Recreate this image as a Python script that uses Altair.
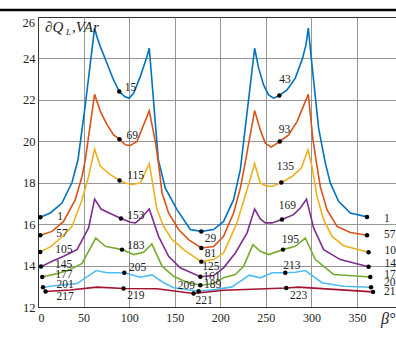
import altair as alt
import pandas as pd

# ---------------- data ----------------
series_names = ["s1", "s2", "s3", "s4", "s5", "s6", "s7"]
series_colors = ["#0072BD", "#D95319", "#EDB120", "#7E2F8E", "#77AC30", "#4DBEEE", "#A2142F"]

blue_x = [2.5, 13.5, 26.3, 37.3, 43.9, 51.9, 62.1, 65.0, 68.4, 75.7, 82.9, 89.2, 94.7, 99.8, 104.9, 112.2,
          119.6, 122.1, 132.0, 139.7, 152.5, 167.1, 179.2, 192.7, 203.6, 214.6, 222.0, 237.7, 242.1,
          247.5, 253.0, 258.5, 264.8, 273.2, 282.3, 290.3, 294.0, 296.6, 300.6, 307.9, 315.2, 320.7, 329.8,
          342.7, 361.0]
blue_y = [16.33, 16.54, 17.02, 18.01, 19.11, 21.76, 25.46, 25.0, 24.57, 23.77, 22.96, 22.40, 22.17, 22.08,
          22.32, 23.12, 24.09, 24.49, 19.11, 17.74, 16.70, 15.74, 15.65, 15.74, 16.13, 17.18, 18.63,
          24.49, 23.53, 22.72, 22.24, 22.08, 22.21, 22.48, 23.05, 24.01, 24.65, 25.46, 23.69, 20.64, 18.96,
          17.99, 17.10, 16.54, 16.35]

orange_x = [2.5, 15.4, 28.1, 40.9, 48.3, 51.9, 62.1, 68.4, 75.7, 82.9, 89.4, 95.8, 101.3, 108.6,
            122.1, 128.7, 132.4, 136.1, 143.3, 154.3, 165.2, 179.2, 192.7, 203.6, 214.6, 222.0,
            227.5, 237.7, 243.9, 249.4, 256.0, 265.3, 275.0, 284.2, 290.3, 296.6, 301.7, 305.4,
            309.7, 317.1, 328.1, 342.7, 361.0]
orange_y = [15.46, 15.65, 16.13, 17.18, 18.30, 19.11, 22.27, 21.44, 20.80, 20.31, 20.10, 19.83, 19.80,
            19.99, 21.47, 19.99, 18.87, 17.50, 16.54, 15.74, 15.25, 14.85, 14.92, 15.41, 16.54, 17.74,
            19.01, 21.48, 20.55, 19.91, 19.72, 19.99, 20.31, 20.95, 21.60, 22.27, 20.07, 19.01,
            17.82, 16.70, 15.89, 15.60, 15.46]

yellow_x = [2.5, 13.5, 26.3, 37.3, 48.3, 55.5, 62.1, 68.4, 79.3, 89.5, 95.8, 103.1, 112.2, 122.1,
            130.6, 137.8, 147.0, 159.8, 179.2, 192.7, 203.6, 218.3, 229.3, 237.7, 243.9, 249.4,
            256.8, 267.0, 278.7, 288.9, 296.2, 300.6, 306.1, 313.4, 322.6, 335.3, 362.7]
yellow_y = [14.66, 14.90, 15.38, 15.89, 17.18, 18.30, 19.62, 18.79, 18.39, 18.11, 17.99, 17.90, 17.99,
            18.92, 16.70, 15.89, 15.26, 14.77, 14.19, 14.29, 14.61, 16.06, 17.66, 18.92, 17.99, 17.86,
            17.82, 18.01, 18.30, 18.71, 19.59, 18.79, 17.34, 16.22, 15.41, 14.96, 14.64]

purple_x = [3.3, 15.4, 28.1, 42.8, 55.5, 62.1, 69.1, 79.3, 91.1, 101.3, 106.8, 112.2, 122.1, 132.3,
            143.3, 156.1, 178.1, 192.7, 203.6, 216.5, 229.3, 237.7, 243.9, 249.4, 256.8, 267.7,
            280.4, 287.8, 294.6, 302.4, 313.4, 331.7, 362.7]
purple_y = [13.95, 14.21, 14.45, 14.77, 15.82, 17.21, 16.73, 16.51, 16.27, 16.09, 16.06, 16.25, 16.73,
            15.41, 14.45, 13.89, 13.46, 13.52, 13.89, 14.61, 15.57, 16.73, 16.25, 16.06, 16.06, 16.22,
            16.46, 16.78, 17.21, 15.82, 14.77, 14.29, 13.94]

green_x = [4.7, 20.8, 35.4, 48.3, 63.4, 73.8, 92.2, 104.9, 115.9, 124.9, 136.1, 148.8, 163.5, 178.1,
           192.7, 203.6, 216.5, 225.6, 235.9, 243.9, 253.0, 268.8, 282.3, 293.3, 304.3, 324.3, 364.6]
green_y = [13.45, 13.61, 13.81, 14.10, 15.33, 14.93, 14.77, 14.53, 14.64, 15.05, 13.97, 13.48, 13.20,
           13.05, 13.13, 13.41, 13.57, 13.97, 15.01, 14.69, 14.53, 14.77, 14.93, 15.33, 14.29, 13.57,
           13.45]

lblue_x = [5.5, 20.8, 42.8, 64.0, 75.7, 94.7, 112.2, 125.1, 137.8, 148.8, 176.2, 194.5, 212.9, 231.8,
           243.9, 257.1, 271.3, 282.3, 293.3, 311.6, 335.3, 365.4]
lblue_y = [12.95, 13.04, 13.13, 13.76, 13.65, 13.65, 13.44, 13.55, 13.17, 12.93, 12.76, 12.84, 12.97,
           13.54, 13.41, 13.65, 13.65, 13.68, 13.76, 13.17, 13.00, 12.95]

dred_x = [8.3, 35.4, 64.7, 93.9, 130.6, 170.7, 203.6, 234.8, 272.4, 285.6, 367.6]
dred_y = [12.75, 12.82, 12.96, 12.89, 12.88, 12.65, 12.81, 12.86, 12.92, 12.96, 12.73]

all_x = [blue_x, orange_x, yellow_x, purple_x, green_x, lblue_x, dred_x]
all_y = [blue_y, orange_y, yellow_y, purple_y, green_y, lblue_y, dred_y]

# indices of the marked (black) points on each curve and their numbers
dot_index = [
    [0, 11, 22, 32, 44],
    [0, 10, 21, 31, 42],
    [0, 9, 18, 27, 36],
    [0, 8, 16, 25, 32],
    [0, 6, 13, 21, 26],
    [0, 5, 10, 16, 21],
    [0, 3, 5, 8, 10],
]
dot_text = [
    ["1", "15", "29", "43", "1"],
    ["57", "69", "81", "93", "57"],
    ["105", "115", "125", "135", "105"],
    ["145", "153", "161", "169", "145"],
    ["177", "183", "189", "195", "177"],
    ["201", "205", "209", "213", "201"],
    ["217", "219", "221", "223", "217"],
]

# label placement (pixel offsets from the dot) -- styling only
label_dx = [
    [17, 5.5, 3.5, 5.7, 17],
    [16, 7, 3.5, 4.8, 17],
    [15, 7.7, 1, 4, 16],
    [14, 6.3, 3, 5.3, 16],
    [13, 5.3, 3.7, 7.3, 14],
    [13.5, 4.7, -3.5, 6.7, 13],
    [11, 3.7, 2, 12.3, 11],
]
label_dy = [
    [0, -3.5, 8, -15.7, 2],
    [-1, -3, 6, -11, 0],
    [-2, -4.7, 5, -15.4, -1.5],
    [-2, -3, 0, -14, -3],
    [-1.5, -4, 0, -9.3, -2],
    [-2, -5, -5.7, -7.3, -4.5],
    [5.5, 7, 7, 7.7, 0],
]
label_align = [
    ["left", "left", "left", "center", "left"],
    ["left", "left", "left", "center", "left"],
    ["left", "left", "left", "center", "left"],
    ["left", "left", "left", "center", "left"],
    ["left", "left", "left", "center", "left"],
    ["left", "left", "right", "center", "left"],
    ["left", "left", "left", "center", "left"],
]

x_ticks = [0, 50, 100, 150, 200, 250, 300, 350]
y_ticks = [12, 14, 16, 18, 20, 22, 24]
X_MAX = 392.8
Y_MIN, Y_MAX = 12, 26

W, H = 358, 290
SERIF = "Liberation Serif"
PX_X = X_MAX / W            # data units per pixel
PX_Y = (Y_MAX - Y_MIN) / H

# ---------------- tables ----------------
line_rows, dot_rows, lab_rows = [], [], []
for s, name in enumerate(series_names):
    for i, (xv, yv) in enumerate(zip(all_x[s], all_y[s])):
        line_rows.append({"series": name, "i": i, "x": xv, "y": yv})
    for k, idx in enumerate(dot_index[s]):
        xv, yv = all_x[s][idx], all_y[s][idx]
        dot_rows.append({"x": xv, "y": yv})
        lab_rows.append({"x": xv + label_dx[s][k] * PX_X, "y": yv - label_dy[s][k] * PX_Y,
                         "t": dot_text[s][k], "al": label_align[s][k]})
lines_df = pd.DataFrame(line_rows)
dots_df = pd.DataFrame(dot_rows)
labs_df = pd.DataFrame(lab_rows)

xscale = alt.Scale(domain=[0, X_MAX], nice=False, zero=False)
yscale = alt.Scale(domain=[Y_MIN, Y_MAX], nice=False, zero=False)
X_ENC = alt.X("x:Q", scale=xscale, title=None,
              axis=alt.Axis(values=x_ticks, grid=True, ticks=False, labelPadding=5, title=None,
                            labelFontSize=12, labelFont=SERIF, labelColor="#222",
                            gridColor="#8a8a8a", gridWidth=0.9, domainColor="#333"))
Y_ENC = alt.Y("y:Q", scale=yscale, title=None,
              axis=alt.Axis(values=y_ticks, grid=True, ticks=False, labelPadding=3, title=None,
                            labelFontSize=12.5, labelFont=SERIF, labelColor="#222",
                            gridColor="#8a8a8a", gridWidth=0.9, domainColor="#333"))

lines = alt.Chart(lines_df).mark_line(strokeWidth=1.6).encode(
    x=X_ENC, y=Y_ENC,
    color=alt.Color("series:N", scale=alt.Scale(domain=series_names, range=series_colors), legend=None),
    order="i:Q",
)

dots = alt.Chart(dots_df).mark_circle(size=20, color="black", opacity=1).encode(x=X_ENC, y=Y_ENC)

label_layers = []
for al in ["left", "center", "right"]:
    sub = labs_df[labs_df["al"] == al]
    if len(sub) == 0:
        continue
    label_layers.append(
        alt.Chart(sub).mark_text(align=al, baseline="middle", font=SERIF, fontSize=11.5, color="#222").encode(
            x=X_ENC, y=Y_ENC, text="t:N")
    )

anno = pd.DataFrame({"y": [Y_MAX]})
top_tick = alt.Chart(anno).mark_text(align="right", baseline="middle", font=SERIF, fontSize=12.5,
                                     color="#222", dy=6).encode(
    x=alt.value(-3), y=Y_ENC, text=alt.Text("y:Q"))

t1 = alt.Chart(anno).mark_text(align="left", baseline="middle", font=SERIF, fontSize=15,
                               fontStyle="italic", color="#222").encode(
    x=alt.value(7), y=alt.value(10), text=alt.value("∂Q"))
t2 = alt.Chart(anno).mark_text(align="left", baseline="middle", font=SERIF, fontSize=9,
                               fontStyle="italic", color="#222").encode(
    x=alt.value(28), y=alt.value(15), text=alt.value("L"))
t3 = alt.Chart(anno).mark_text(align="left", baseline="middle", font=SERIF, fontSize=15,
                               fontStyle="italic", color="#222").encode(
    x=alt.value(34), y=alt.value(10), text=alt.value(",VAr"))
beta = alt.Chart(anno).mark_text(align="left", baseline="middle", font=SERIF, fontSize=16,
                                 fontStyle="italic", color="#222").encode(
    x=alt.value(343), y=alt.value(302), text=alt.value("β°"))
top_rule = alt.Chart(anno).mark_rule(color="black", strokeWidth=2.5).encode(
    x=alt.value(-40), x2=alt.value(360), y=alt.value(-7))

chart = alt.layer(lines, dots, *label_layers, top_tick, t1, t2, t3, beta, top_rule).properties(
    width=W, height=H,
    autosize=alt.AutoSizeParams(type="none"),
    padding={"left": 38, "top": 17, "right": 0, "bottom": 31},
    background="white",
).configure_view(stroke="#333", strokeWidth=1)

chart.save("out.html", embed_options={"renderer": "svg", "actions": False})
